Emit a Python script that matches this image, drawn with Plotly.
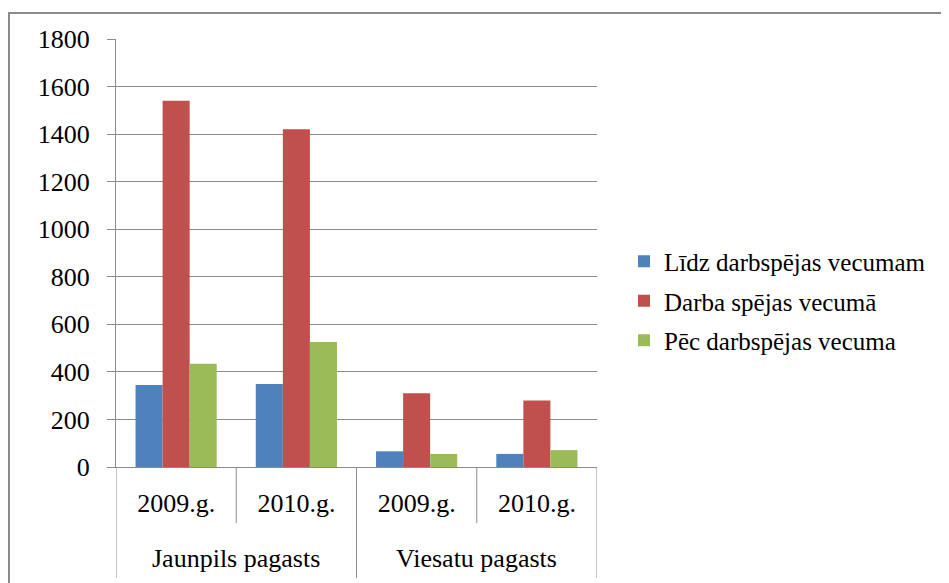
import plotly.graph_objects as go

groups = ["Jaunpils pagasts", "Jaunpils pagasts", "Viesatu pagasts", "Viesatu pagasts"]
years = ["2009.g.", "2010.g.", "2009.g.", "2010.g."]
group_labels = ["Jaunpils pagasts", "Viesatu pagasts"]
series_names = ["Līdz darbspējas vecumam", "Darba spējas vecumā", "Pēc darbspējas vecuma"]
lidz = [345, 349, 66, 55]
darba = [1540, 1420, 310, 280]
pec = [434, 526, 55, 71]
colors = ["#4f81bd", "#c0504d", "#9bbb59"]
yticks = [0, 200, 400, 600, 800, 1000, 1200, 1400, 1600, 1800]

OFF = 8  # page body margin
W, H = 949 - OFF, 583 - OFF
L, R, T, B = 116 - OFF, 597 - OFF, 39 - OFF, 467 - OFF
PH = B - T

def py(ypix):
    return (B - (ypix - OFF)) / PH

cats = [g + " " + y for g, y in zip(groups, years)]
FAM = "Liberation Serif"
GRAY = "#8c8c8c"

fig = go.Figure()
for i, (name, vals, c) in enumerate(zip(series_names, [lidz, darba, pec], colors)):
    fig.add_trace(go.Bar(x=cats, y=vals, name=name, legendgroup="g%d" % i,
                         marker=dict(color=c, line=dict(width=0))))

fig.update_layout(
    width=W, height=H,
    margin=dict(l=L, r=W - R, t=T, b=H - B, pad=0),
    paper_bgcolor="white", plot_bgcolor="white",
    barmode="group", bargap=0.325, bargroupgap=0,
    font=dict(family=FAM, size=26, color="#000000"),
    showlegend=True,
    legend=dict(x=(624 - OFF - L) / (R - L), y=py(301), xanchor="left", yanchor="middle",
                font=dict(family=FAM, size=25, color="#000"),
                tracegroupgap=4, itemwidth=30, bgcolor="rgba(0,0,0,0)"),
)
fig.update_yaxes(range=[0, 1800], tickvals=yticks, showgrid=True, gridcolor=GRAY, gridwidth=1,
                 showline=True, linecolor=GRAY, linewidth=1, ticks="outside", ticklen=8,
                 tickcolor=GRAY, zeroline=False, fixedrange=True, ticklabelstandoff=12)
fig.update_xaxes(type="category", categoryorder="array", categoryarray=cats,
                 tickvals=cats, ticktext=years, showline=True, linecolor=GRAY, linewidth=1,
                 ticks="", showgrid=False, ticklabelstandoff=13, range=[-0.5, 3.5])

# separators below the axis
for xb in [0.5, 2.5]:
    fig.add_shape(type="line", xref="x", yref="paper", x0=xb, x1=xb, y0=py(523), y1=0,
                  line=dict(color=GRAY, width=1))
for xb in [-0.5, 1.5, 3.5]:
    fig.add_shape(type="line", xref="x", yref="paper", x0=xb, x1=xb, y0=py(578), y1=0,
                  line=dict(color=GRAY, width=1))
for k, g in enumerate(group_labels):
    fig.add_annotation(text=g, xref="x", yref="paper", x=2 * k + 0.5, y=py(558),
                       showarrow=False, yanchor="middle", xanchor="center",
                       font=dict(family=FAM, size=26, color="#000"))

# outer chart border
fig.add_shape(type="rect", xref="paper", yref="paper",
              x0=(9 - OFF - L) / (R - L), x1=(970 - OFF - L) / (R - L),
              y0=py(620), y1=py(13),
              line=dict(color=GRAY, width=2), fillcolor="rgba(0,0,0,0)", layer="below")

fig.write_html("out.html")
